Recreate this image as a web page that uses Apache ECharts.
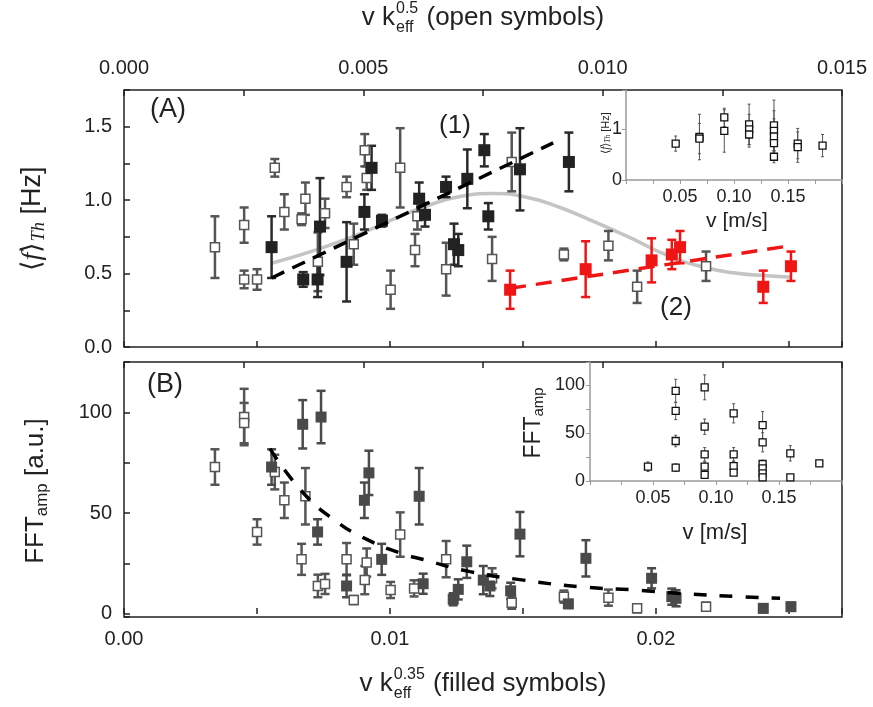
<!DOCTYPE html>
<html><head><meta charset="utf-8">
<script src="https://cdn.jsdelivr.net/npm/echarts@6/dist/echarts.min.js"></script>
<style>html,body{margin:0;padding:0;background:#fff}#c{width:873px;height:707px}</style>
</head><body><div id="c"></div>
<script>
// ---------------- DATA ----------------
// Panel A: open symbols [v k^0.5, <f>_Th, err]
const openA = [
[0.00190,0.68,0.21],[0.00251,0.83,0.12],[0.00251,0.46,0.06],[0.00278,0.46,0.07],
[0.00315,1.22,0.06],[0.00335,0.92,0.12],[0.00371,0.87,0.04],[0.00379,1.01,0.11],
[0.00405,0.58,0.20],[0.00420,0.91,0.10],[0.00465,1.09,0.07],[0.00480,0.70,0.14],
[0.00503,1.34,0.11],[0.00507,1.15,0.08],[0.00557,0.39,0.13],[0.00577,1.22,0.27],
[0.00608,0.66,0.11],[0.00613,0.89,0.09],[0.00673,0.53,0.18],[0.00769,0.60,0.15],
[0.00810,1.26,0.20],[0.00919,0.63,0.04],[0.01012,0.69,0.10],[0.01072,0.41,0.11],
[0.01216,0.55,0.10]];
// Panel A: filled black symbols [v k^0.35, <f>_Th, err]
const filledA = [
[0.00555,0.68,0.21],[0.00674,0.46,0.05],[0.00728,0.46,0.12],[0.00737,0.82,0.33],
[0.00837,0.58,0.27],[0.00904,0.92,0.12],[0.00931,1.22,0.15],[0.00970,0.86,0.04],
[0.01110,1.01,0.11],[0.01132,0.90,0.08],[0.01211,1.09,0.07],[0.01241,0.70,0.14],
[0.01257,0.66,0.11],[0.01291,1.145,0.20],[0.01355,1.34,0.11],[0.01370,0.89,0.09],
[0.01489,1.21,0.28],[0.01673,1.26,0.20]];
// Panel A: filled red symbols
const redA = [
[0.01452,0.39,0.13],[0.01736,0.53,0.19],[0.01984,0.59,0.15],[0.02060,0.63,0.10],
[0.02091,0.68,0.11],[0.02404,0.41,0.11],[0.02508,0.55,0.10]];
// Panel A fit lines
const grayCurveA = [
[0.00555,0.57],[0.00737,0.67],[0.00887,0.77],[0.01013,0.87],[0.01138,0.96],[0.01263,1.025],
[0.01389,1.045],[0.01514,1.02],[0.01640,0.95],[0.01765,0.855],[0.01853,0.786],[0.01915,0.735],
[0.02041,0.625],[0.02166,0.55],[0.02291,0.505],[0.02417,0.485],[0.02504,0.477]];
const dashBlackA = [[0.00555,0.47],[0.01614,1.39]];
const dashRedA = [[0.01452,0.40],[0.02508,0.69]];
// Panel B: open symbols [v k^0.5, FFT_amp, err]
const openB = [
[0.00190,72.9,8.8],[0.00251,97.7,14],[0.00251,94.7,10],[0.00278,40.7,6.3],
[0.00315,70.4,8.6],[0.00335,56.4,8.8],[0.00371,27.1,7.7],[0.00379,58.4,14],
[0.00405,13.9,5.6],[0.00420,14.9,5],[0.00465,27.2,8],[0.00480,6.9,2],
[0.00503,16.8,7],[0.00507,25.5,7],[0.00557,11.9,4],[0.00577,39.4,11],
[0.00606,12.7,4],[0.00673,27.2,9],[0.00769,17.7,5],[0.00810,5.6,3],
[0.00919,8.6,3],[0.01012,8.1,4],[0.01072,2.8,2],[0.01216,3.6,2]];
// Panel B: filled symbols [v k^0.35, FFT_amp, err]
const filledB = [
[0.00555,72.9,8.8],[0.00672,94.1,12],[0.00728,40.7,6.3],[0.00741,97.7,13],
[0.00837,13.9,5.6],[0.00904,56.4,8.8],[0.00921,70,11],[0.00969,27.1,7.7],
[0.01110,58.4,14],[0.01125,15.0,5],[0.01238,7.3,3],[0.01257,12.2,5],
[0.01289,25.9,8],[0.01351,16.8,7],[0.01376,13.9,5],[0.01454,11.5,4],
[0.01489,39.6,11],[0.01671,5,2],[0.01737,27.6,9],[0.01984,17.7,5],
[0.02060,8.6,4],[0.02076,7.8,4],[0.02404,2.8,2],[0.02508,3.6,2]];
const dashB = [
[0.00549,82],[0.00668,61],[0.00787,47],[0.00913,37],[0.01044,30],[0.01125,27],
[0.01301,21],[0.01502,16.8],[0.01715,13.5],[0.01922,11.9],[0.02091,10.2],[0.02316,8.6],[0.02467,7.8]];
// Insets [v (m/s), value, err]
const insetA = [
[0.046,0.72,0.15],[0.068,0.85,0.45],[0.068,0.82,0.30],[0.091,1.24,0.18],[0.091,0.97,0.42],
[0.114,1.10,0.40],[0.114,1.00,0.30],[0.114,0.90,0.25],[0.137,1.08,0.50],[0.137,0.97,0.40],
[0.137,0.86,0.35],[0.137,0.73,0.30],[0.137,0.46,0.12],[0.159,0.72,0.30],[0.159,0.65,0.30],
[0.182,0.68,0.22]];
const insetB = [
[0.046,14.9,5],[0.068,94,12],[0.068,73,9],[0.068,41.7,6],[0.068,13.9,4],
[0.091,97.6,13],[0.091,56.6,8],[0.091,27.8,7],[0.091,14.9,5],[0.091,6.3,3],
[0.114,70.5,10],[0.114,27.8,7],[0.114,15.6,5],[0.114,8.7,3],
[0.137,58.3,14],[0.137,40.3,10],[0.137,17.7,4],[0.137,13.2,4],[0.137,8.0,3],[0.137,3.8,2],
[0.159,28.8,8],[0.159,3.8,2],[0.182,18.4,3]];
// ---------------- CHART ----------------
const F = "'Liberation Sans', Arial, sans-serif";
const TXT = '#222';
const chart = echarts.init(document.getElementById('c'), null, {renderer:'canvas'});
const mctx = document.createElement('canvas').getContext('2d');
function tw(t, size){ mctx.font = size + "px 'Liberation Sans'"; return mctx.measureText(t).width; }
function mult(v, step){ return Math.abs(v/step - Math.round(v/step)) < 1e-6; }

function errSeries(data, xi, yi, color, lw, cap, z){
  return {type:'custom', xAxisIndex:xi, yAxisIndex:yi, z:z||2, silent:true,
    data:data, encode:{x:0,y:1},
    renderItem:function(p, api){
      const x=api.value(0), y=api.value(1), e=api.value(2);
      const t=api.coord([x,y+e]), b=api.coord([x,y-e]); const h=cap/2;
      const st={stroke:color, lineWidth:lw};
      return {type:'group', children:[
        {type:'line', shape:{x1:t[0],y1:t[1],x2:b[0],y2:b[1]}, style:st},
        {type:'line', shape:{x1:t[0]-h,y1:t[1],x2:t[0]+h,y2:t[1]}, style:st},
        {type:'line', shape:{x1:b[0]-h,y1:b[1],x2:b[0]+h,y2:b[1]}, style:st}]};
    }};
}
function scat(data, xi, yi, size, fill, border, bw, z){
  return {type:'scatter', xAxisIndex:xi, yAxisIndex:yi, symbol:'rect', symbolSize:size, z:z||3,
    data:data.map(d=>[d[0],d[1]]), itemStyle:{color:fill, borderColor:border, borderWidth:bw, opacity:1}, silent:true};
}
function mainX(grid, pos, max, iv, lab, step, dec){
  return {gridIndex:grid, type:'value', position:pos, min:0, max:max, interval:iv,
    axisLine:{show:false}, splitLine:{show:false},
    axisTick:{inside:true, length:6, lineStyle:{color:TXT, width:1.5}},
    axisLabel:{show:lab, color:TXT, fontSize:20, fontFamily:F, margin:12,
      formatter:v=> mult(v,step) ? v.toFixed(dec) : ''}};
}
function insetX(grid){
  return {gridIndex:grid, type:'value', min:0, max:0.2, interval:0.025,
    axisLine:{show:true, lineStyle:{color:'#9a9a9a', width:1.5}}, splitLine:{show:false},
    axisTick:{inside:false, length:4, lineStyle:{color:'#9a9a9a', width:1}},
    axisLabel:{color:TXT, fontSize:18, fontFamily:F, margin:8,
      formatter:v=> (mult(v,0.05) && v>0.01 && v<0.19) ? v.toFixed(2) : ''}};
}
function txt(x,y,t,size,opt){
  return Object.assign({type:'text', x:x, y:y, silent:true,
    style:{text:t, font:size+'px '+F, fill:TXT, align:'center', verticalAlign:'middle'}}, opt||{});
}
function stackTitle(cx, cy, pre, sup, sub, post, S, s){
  const w1=tw(pre,S), ws=Math.max(tw(sup,s),tw(sub,s)), w2=tw(post,S);
  const x=cx-(w1+ws+w2+2)/2;
  const st=(t,sz)=>({text:t, font:sz+'px '+F, fill:TXT, align:'left', verticalAlign:'middle'});
  return [
    {type:'text', x:x, y:cy, style:st(pre,S)},
    {type:'text', x:x+w1+1, y:cy-0.36*S, style:st(sup,s)},
    {type:'text', x:x+w1+1, y:cy+0.36*S, style:st(sub,s)},
    {type:'text', x:x+w1+ws+2, y:cy, style:st(post,S)}];
}
const SERIF = "'Liberation Serif', 'DejaVu Serif', serif";
function fTitle(x,y,S){
  return {type:'text', x:x, y:y, rotation:Math.PI/2, silent:true, style:{
    text:'{m|⟨}{i|f}{m|⟩}{s|Th}{m| [Hz]}', align:'center', verticalAlign:'middle', fill:TXT,
    rich:{m:{fontSize:S, fontFamily:F, fill:TXT},
          i:{fontSize:S*1.05, fontFamily:SERIF, fontStyle:'italic', fill:TXT},
          s:{fontSize:S*0.68, fontFamily:SERIF, fontStyle:'italic', fill:TXT, padding:[S*0.45,0,0,0]}}}};
}
function fftTitle(x,y,S,post){
  return {type:'text', x:x, y:y, rotation:Math.PI/2, silent:true, style:{
    text:'{m|FFT}{s|amp}'+(post?'{m|'+post+'}':''), align:'center', verticalAlign:'middle', fill:TXT,
    rich:{m:{fontSize:S, fontFamily:F, fill:TXT},
          s:{fontSize:S*0.65, fontFamily:F, fill:TXT, padding:[S*0.45,0,0,0]}}}};
}

const graphics = [].concat(
  stackTitle(483, 18, 'v k', '0.5', 'eff', ' (open symbols)', 26, 16),
  stackTitle(483, 684, 'v k', '0.35', 'eff', ' (filled symbols)', 26, 16),
  [fTitle(33, 219, 27), fftTitle(36, 491, 26, ' [a.u.]'),
   fTitle(606, 133, 11), fftTitle(534, 423, 23, ''),
   txt(168, 110, '(A)', 27), txt(165, 385, '(B)', 27),
   txt(455, 126, '(1)', 26), txt(676, 308, '(2)', 26),
   txt(737, 221, 'v [m/s]', 21), txt(715, 533, 'v [m/s]', 22)]
);

const option = {
  animation:false,
  backgroundColor:'#fff',
  grid:[
    {left:124, top:90, width:718, height:257, show:true, borderColor:TXT, borderWidth:1.5, backgroundColor:'transparent'},
    {left:124, top:362, width:718, height:255, show:true, borderColor:TXT, borderWidth:1.5, backgroundColor:'transparent'},
    {left:626, top:90, width:216, height:90, show:false},
    {left:590, top:362, width:252, height:119, show:false}
  ],
  xAxis:[
    mainX(0,'bottom',0.027,0.005,false,0.01,2),
    mainX(0,'top',0.015,0.0025,true,0.005,3),
    mainX(1,'bottom',0.027,0.005,true,0.01,2),
    mainX(1,'top',0.015,0.0025,false,0.005,3),
    insetX(2), insetX(3)
  ],
  yAxis:[
    {gridIndex:0, type:'value', min:0, max:1.75, interval:0.25, axisLine:{show:false}, splitLine:{show:false},
     axisTick:{inside:true, length:6, lineStyle:{color:TXT, width:1.5}},
     axisLabel:{color:TXT, fontSize:20, fontFamily:F, margin:12, formatter:v=> mult(v,0.5)? v.toFixed(1):''}},
    {gridIndex:1, type:'value', min:-1.5, max:125, splitNumber:5, minInterval:25, maxInterval:25,
     axisLine:{show:false}, splitLine:{show:false},
     axisTick:{inside:true, length:6, lineStyle:{color:TXT, width:1.5}},
     axisLabel:{color:TXT, fontSize:20, fontFamily:F, margin:12, formatter:v=> (v>=0 && mult(v,50))? String(Math.round(v)):''}},
    {gridIndex:2, type:'value', min:0, max:1.78, interval:1,
     axisLine:{show:true, lineStyle:{color:'#9a9a9a', width:1.5}}, splitLine:{show:false},
     axisTick:{inside:false, length:4, lineStyle:{color:'#9a9a9a'}},
     axisLabel:{color:TXT, fontSize:18, fontFamily:F, margin:4, formatter:v=> mult(v,1)? String(v):''}},
    {gridIndex:3, type:'value', min:0, max:124, interval:25,
     axisLine:{show:true, lineStyle:{color:'#9a9a9a', width:1.5}}, splitLine:{show:false},
     axisTick:{inside:false, length:4, lineStyle:{color:'#9a9a9a'}},
     axisLabel:{color:TXT, fontSize:18, fontFamily:F, margin:5, formatter:v=> mult(v,50)? String(v):''}}
  ],
  series:[
    {type:'line', xAxisIndex:0, yAxisIndex:0, data:grayCurveA, smooth:true, symbol:'none', z:1,
     lineStyle:{color:'#c4c4c4', width:3.5}, silent:true},
    errSeries(openA,1,0,'#555',2.5,9),
    scat(openA,1,0,9,'#fff','#555',1.5),
    errSeries(filledA,0,0,'#2a2a2a',2.5,9),
    scat(filledA,0,0,12,'#222','#222',0),
    errSeries(redA,0,0,'#f01515',2.5,9),
    scat(redA,0,0,12,'#f01515','#f01515',0),
    {type:'line', xAxisIndex:0, yAxisIndex:0, data:dashBlackA, symbol:'none', z:4, silent:true,
     lineStyle:{color:'#000', width:3.5, type:[14,9]}},
    {type:'line', xAxisIndex:0, yAxisIndex:0, data:dashRedA, symbol:'none', z:4, silent:true,
     lineStyle:{color:'#f01515', width:3.5, type:[16,10]}},
    errSeries(openB,3,1,'#555',2.5,9),
    scat(openB,3,1,9,'#fff','#555',1.5),
    errSeries(filledB,2,1,'#4a4a4a',2.5,9),
    scat(filledB,2,1,11,'#4a4a4a','#4a4a4a',0),
    {type:'line', xAxisIndex:2, yAxisIndex:1, data:dashB, smooth:true, symbol:'none', z:4, silent:true,
     lineStyle:{color:'#000', width:3.5, type:[13,13]}},
    errSeries(insetA,4,2,'#555',1,3),
    scat(insetA,4,2,7,'#fff','#111',1.3),
    errSeries(insetB,5,3,'#555',1,3),
    scat(insetB,5,3,7,'#fff','#111',1.3)
  ],
  graphic:graphics
};
chart.setOption(option);
</script></body></html>
